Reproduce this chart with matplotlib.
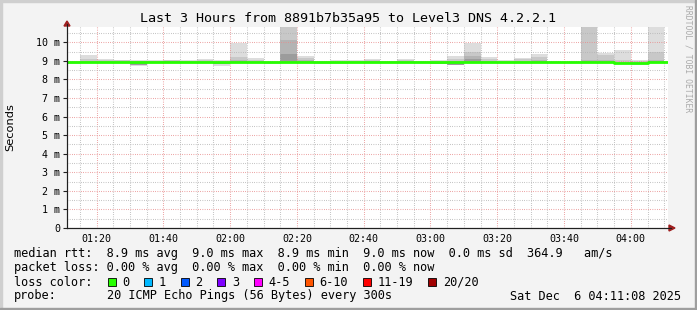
import datetime as dt
import matplotlib
matplotlib.use("Agg")
import matplotlib.pyplot as plt
import matplotlib.dates as mdates
from matplotlib.patches import Rectangle, Polygon
from matplotlib.lines import Line2D
from matplotlib.ticker import MultipleLocator, FuncFormatter

# --- data (ms), one row per 5 minute step starting 01:10 ---
hi1 = [9.00, 9.33, 9.10, 9.05, 9.03, 9.03, 9.04, 9.03, 9.10, 9.02, 9.98, 9.15, 8.98, 11.50,
       9.28, 8.99, 9.02, 9.03, 9.08, 8.99, 9.10, 9.00, 9.02, 9.28, 9.95, 9.21, 9.02, 9.14,
       9.39, 8.98, 8.98, 11.50, 9.44, 9.59, 9.05, 11.50, 8.98]
hi2 = [8.98, 9.08, 9.04, 9.02, 9.00, 9.01, 9.03, 9.01, 9.03, 8.98, 9.20, 9.07, 8.96, 11.20,
       9.14, 8.97, 8.99, 9.00, 9.03, 8.97, 9.05, 8.98, 9.00, 9.08, 9.46, 9.08, 9.00, 9.10,
       9.19, 8.96, 8.96, 11.20, 9.33, 9.02, 8.98, 9.46, 8.96]
hi3 = [8.96, 9.00, 8.99, 8.98, 8.97, 8.98, 9.01, 8.98, 8.99, 8.96, 9.03, 9.00, 8.95, 10.12,
       9.02, 8.95, 8.96, 8.97, 8.99, 8.96, 9.00, 8.96, 8.97, 8.98, 9.28, 9.01, 8.97, 9.01,
       9.03, 8.95, 8.95, 9.03, 9.03, 8.95, 8.92, 9.03, 8.95]
hi4 = [8.94, 8.96, 8.95, 8.95, 8.94, 8.95, 8.97, 8.95, 8.95, 8.94, 8.97, 8.96, 8.93, 9.37,
       8.97, 8.93, 8.94, 8.95, 8.95, 8.94, 8.96, 8.94, 8.94, 8.94, 9.10, 8.96, 8.95, 8.96,
       8.97, 8.93, 8.93, 8.98, 8.97, 8.90, 8.89, 8.97, 8.93]
lo1 = [8.84, 8.87, 8.87, 8.86, 8.74, 8.87, 8.87, 8.87, 8.86, 8.74, 8.87, 8.87, 8.84, 8.86,
       8.87, 8.83, 8.84, 8.86, 8.86, 8.87, 8.86, 8.87, 8.83, 8.76, 8.87, 8.87, 8.86, 8.87,
       8.86, 8.88, 8.88, 8.87, 8.87, 8.81, 8.80, 8.87, 8.88]
lo2 = [8.86, 8.88, 8.88, 8.88, 8.78, 8.88, 8.88, 8.88, 8.88, 8.82, 8.88, 8.88, 8.86, 8.88,
       8.88, 8.86, 8.87, 8.88, 8.88, 8.88, 8.88, 8.88, 8.85, 8.80, 8.88, 8.88, 8.88, 8.88,
       8.88, 8.89, 8.89, 8.88, 8.88, 8.82, 8.82, 8.88, 8.89]
median = [8.91, 8.91, 8.91, 8.91, 8.91, 8.91, 8.91, 8.91, 8.91, 8.91, 8.91, 8.91, 8.91, 8.92,
          8.92, 8.91, 8.91, 8.91, 8.91, 8.91, 8.91, 8.91, 8.91, 8.91, 8.92, 8.92, 8.91, 8.91,
          8.91, 8.91, 8.91, 8.92, 8.92, 8.86, 8.86, 8.92, 8.92]

t0 = dt.datetime(2025, 12, 6, 1, 10)
step = dt.timedelta(minutes=5)
times = [t0 + i * step for i in range(len(median))]
t_start = dt.datetime(2025, 12, 6, 1, 11, 8)
t_end = dt.datetime(2025, 12, 6, 4, 11, 8)

title = "Last 3 Hours from 8891b7b35a95 to Level3 DNS 4.2.2.1"
rtt_stats = {"avg": 8.9, "max": 9.0, "min": 8.9, "now": 9.0, "sd": 0.0}
am_s = 364.9
loss_stats = {"avg": 0.0, "max": 0.0, "min": 0.0, "now": 0.0}
loss_labels = ["0", "1", "2", "3", "4-5", "6-10", "11-19", "20/20"]
loss_colors = ["#26ff00", "#00b8ff", "#0059ff", "#7e00ff", "#ff00ff", "#ff5500", "#ff0000", "#a10000"]
probe_txt = "20 ICMP Echo Pings (56 Bytes) every 300s"
stamp = "Sat Dec  6 04:11:08 2025"

W, H = 697, 310
MONO = "DejaVu Sans Mono"


def px(x, y):
    return (x / W, 1 - y / H)


fig = plt.figure(figsize=(W / 100, H / 100), dpi=100, facecolor="#f3f3f3")

# 3d-ish frame
fig.patches.append(Rectangle((0, 0), 2 / W, 1, transform=fig.transFigure, color="#cfcfcf", zorder=0))
fig.patches.append(Rectangle((0, 1 - 2 / H), 1, 2 / H, transform=fig.transFigure, color="#cfcfcf", zorder=0))
fig.patches.append(Rectangle((1 - 2 / W, 0), 2 / W, 1, transform=fig.transFigure, color="#9e9e9e", zorder=0))
fig.patches.append(Rectangle((0, 0), 1, 2 / H, transform=fig.transFigure, color="#9e9e9e", zorder=0))

L, R, T, B = 67, 668, 27, 228
ax = fig.add_axes([L / W, 1 - B / H, (R - L) / W, (B - T) / H])
ax.set_facecolor("white")

width = 5 / 1440
layers = [(lo1, hi1, "#dddddd"), (lo2, hi2, "#c8c8c8"), (lo2, hi3, "#b4b4b4"), (lo2, hi4, "#9c9c9c")]
for lo, hi, col in layers:
    ax.bar(times, [h - l for h, l in zip(hi, lo)], bottom=lo, width=width, align="edge",
           color=col, linewidth=0, zorder=1)

ax.step(times + [times[-1] + step], median + [median[-1]], where="post", color="#26ff00",
        linewidth=2.0, zorder=3)

ax.set_xlim(t_start, t_end)
ax.set_ylim(0, 10.82)

ax.xaxis.set_major_locator(mdates.MinuteLocator(byminute=[0, 20, 40]))
ax.xaxis.set_minor_locator(mdates.MinuteLocator(byminute=range(0, 60, 5)))
ax.xaxis.set_major_formatter(mdates.DateFormatter("%H:%M"))
ax.yaxis.set_major_locator(MultipleLocator(1))
ax.yaxis.set_minor_locator(MultipleLocator(0.5))
ax.yaxis.set_major_formatter(FuncFormatter(lambda v, p: "0" if v == 0 else f"{v:.0f} m"))

ax.set_axisbelow(False)
ax.grid(which="minor", color="#b4b4b4", linewidth=0.75, dashes=(0.72, 1.44))
ax.grid(which="major", color="#e88c8c", linewidth=0.75, dashes=(0.72, 1.44))

for s in ["top", "right"]:
    ax.spines[s].set_visible(False)
for s in ["left", "bottom"]:
    ax.spines[s].set_color("#202020")
    ax.spines[s].set_linewidth(0.8)
    ax.spines[s].set_zorder(4)

ax.tick_params(axis="x", which="both", length=0, pad=4, labelsize=7.2, labelfontfamily=MONO)
ax.tick_params(axis="y", which="major", length=3, width=0.8, color="#202020", pad=2,
               labelsize=7.2, labelfontfamily=MONO)
ax.tick_params(axis="y", which="minor", length=0)

# axis extensions + arrows
fig.add_artist(Line2D([L / W, L / W], [px(0, B)[1], px(0, 24)[1]], color="#202020", lw=0.8,
                      transform=fig.transFigure))
fig.add_artist(Line2D([L / W, 671 / W], [px(0, B)[1], px(0, B)[1]], color="#202020", lw=0.8,
                      transform=fig.transFigure))
fig.add_artist(Polygon([px(64, 26), px(70, 26), px(67, 21)], closed=True, color="#9f1f1f",
                       transform=fig.transFigure))
fig.add_artist(Polygon([px(669, 225), px(669, 231), px(675, 228)], closed=True, color="#9f1f1f",
                       transform=fig.transFigure))

# texts
fig.text(*px(348.5, 19), title, ha="center", va="center", family=MONO, fontsize=9.6)
fig.text(*px(10, 127), "Seconds", rotation=90, ha="center", va="center", family="DejaVu Sans",
         fontsize=8.2)
fig.text(*px(688, 5), "RRDTOOL / TOBI OETIKER", rotation=270, ha="center", va="top", family=MONO,
         fontsize=5.8, color="#aaaaaa")

x0 = 13.8
cw = 7.17
fs = 8.6
line1 = ("median rtt:  {avg:.1f} ms avg  {max:.1f} ms max  {min:.1f} ms min  {now:.1f} ms now"
         "  {sd:.1f} ms sd  ".format(**rtt_stats) + f"{am_s:.1f}   am/s")
line2 = "packet loss: {avg:.2f} % avg  {max:.2f} % max  {min:.2f} % min  {now:.2f} % now".format(**loss_stats)
fig.text(*px(x0, 254), line1, ha="left", va="center", family=MONO, fontsize=fs)
fig.text(*px(x0, 268), line2, ha="left", va="center", family=MONO, fontsize=fs)
fig.text(*px(x0, 282), "loss color:", ha="left", va="center", family=MONO, fontsize=fs)
col = 13.1
for lab, c in zip(loss_labels, loss_colors):
    bx = x0 + col * cw
    fig.patches.append(Rectangle(px(bx, 286), 8 / W, 8 / H, transform=fig.transFigure,
                                 facecolor=c, edgecolor="black", linewidth=0.6))
    fig.text(*px(bx + 2.05 * cw, 282), lab, ha="left", va="center", family=MONO, fontsize=fs)
    col += 2.05 + len(lab) + 2.05
fig.text(*px(x0, 296), "probe:", ha="left", va="center", family=MONO, fontsize=fs)
fig.text(*px(x0 + 13 * cw, 296), probe_txt, ha="left", va="center", family=MONO, fontsize=fs)
fig.text(*px(681, 296), stamp, ha="right", va="center", family=MONO, fontsize=fs)

fig.savefig("out.png", dpi=100, facecolor=fig.get_facecolor())
